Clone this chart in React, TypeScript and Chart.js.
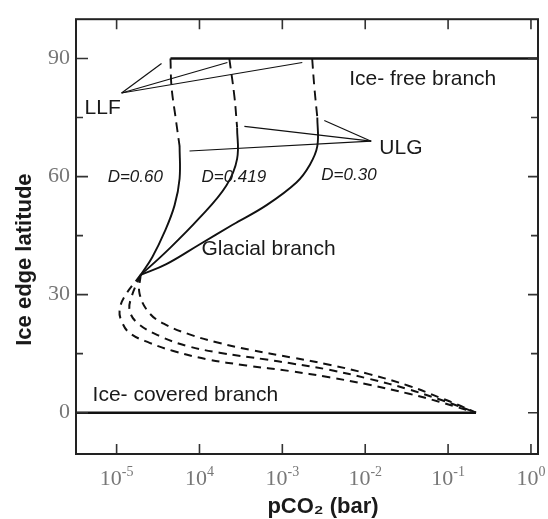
import { useEffect, useRef } from "react";
import { Chart, registerables } from "chart.js";

Chart.register(...registerables);

// ---- axes ----
const xMinLog = -5.49;
const xMaxLog = 0.085;
const yMin = -10.5;
const yMax = 100;
const xTickValues = [1e-5, 1e-4, 1e-3, 1e-2, 1e-1, 1];
const xTickExponents = ["-5", "4", "-3", "-2", "-1", "0"];
const yMajorTicks = [0, 30, 60, 90];
const yMinorTicks = [15, 45, 75];

// ---- branches (log10 pCO2, latitude) ----
const iceFreeLogP = [-4.35, 1];
const iceFreeLat = [90, 90];
const iceCoveredLogP = [-6, -0.663];
const iceCoveredLat = [0, 0];

// D = 0.60
const d060UpperLogP = [-4.35, -4.337, -4.29, -4.24];
const d060UpperLat = [90, 82.75, 75.25, 67.75];
const d060GlacialLogP = [-4.24, -4.24, -4.3, -4.42, -4.57, -4.71];
const d060GlacialLat = [67.75, 59.5, 52.75, 46, 39.5, 35];
const d060LowerLogP = [-4.71, -4.904, -4.964, -4.94, -4.843, -4.602, -4.325, -3.916, -3.434, -2.916, -2.434, -1.952, -1.47, -1.108, -0.904, -0.663];
const d060LowerLat = [35, 29.5, 26, 23.25, 20.25, 17.75, 15.75, 13.6, 12.0, 10.6, 9.0, 7.1, 4.8, 2.8, 1.5, 0];

// D = 0.419
const d0419UpperLogP = [-3.64, -3.578, -3.546];
const d0419UpperLat = [90, 80.25, 72.5];
const d0419GlacialLogP = [-3.546, -3.546, -3.675, -4.0, -4.398, -4.71];
const d0419GlacialLat = [72.5, 64.5, 57.75, 49.5, 41, 35];
const d0419LowerLogP = [-4.71, -4.819, -4.843, -4.747, -4.482, -4.157, -3.759, -3.193, -2.916, -2.434, -1.952, -1.47, -1.108, -0.904, -0.663];
const d0419LowerLat = [35, 29.5, 26, 22.75, 19.5, 17, 15.25, 13.5, 12.6, 10.9, 8.6, 5.9, 3.4, 1.9, 0];

// D = 0.30
const d030UpperLogP = [-2.64, -2.614, -2.578];
const d030UpperLat = [90, 82.75, 75];
const d030GlacialLogP = [-2.578, -2.578, -2.675, -2.83, -3.19, -3.6, -4.0, -4.4, -4.71];
const d030GlacialLat = [75, 67.75, 62.75, 58.5, 52.75, 47.75, 42.75, 37.75, 35];
const d030LowerLogP = [-4.71, -4.723, -4.602, -4.398, -4.12, -3.795, -3.398, -2.88, -2.434, -1.952, -1.47, -1.108, -0.904, -0.663];
const d030LowerLat = [35, 30.25, 25.25, 22.25, 19.9, 17.9, 16.0, 14.0, 12.2, 9.8, 6.8, 3.9, 2.2, 0];

// ---- pointer lines (apex -> end) ----
const llfApex = [-4.94, 81.25];
const llfEndsLogP = [-4.458, -3.663, -2.759];
const llfEndsLat = [88.75, 89, 89];
const ulgApex = [-1.928, 69];
const ulgEndsLogP = [-2.494, -3.458, -4.12];
const ulgEndsLat = [74.25, 72.75, 66.5];

// ---- text labels ----
const labelTexts = ["Ice- free branch", "ULG", "LLF", "Glacial branch", "Ice- covered branch", "D=0.60", "D=0.419", "D=0.30"];
const labelLogP = [-2.193, -1.83, -5.386, -3.976, -5.29, -5.108, -3.976, -2.53];
const labelLat = [84.75, 67.25, 77.5, 41.5, 4.5, 59.75, 59.75, 60.25];
const labelItalic = [false, false, false, false, false, true, true, true];

const xTitle = "pCO₂ (bar)";
const yTitle = "Ice edge latitude";

const INK = "#111";

function pts(logs: number[], lats: number[]) {
  return logs.map((l, i) => ({ x: Math.pow(10, l), y: lats[i] }));
}

function series(logs: number[], lats: number[], dash: number[], width = 1.9, tension = 0.4) {
  return {
    data: pts(logs, lats),
    borderColor: INK,
    borderWidth: width,
    borderDash: dash,
    pointRadius: 0,
    tension,
    fill: false,
  };
}

const decor = {
  id: "decor",
  afterDraw(chart: any) {
    const { ctx, chartArea: a } = chart;
    const x = chart.scales.x;
    const y = chart.scales.y;
    ctx.save();
    // ticks
    ctx.strokeStyle = "#333";
    ctx.lineWidth = 1.6;
    ctx.beginPath();
    xTickValues.forEach((v) => {
      const px = x.getPixelForValue(v);
      ctx.moveTo(px, a.bottom);
      ctx.lineTo(px, a.bottom - 10);
      ctx.moveTo(px, a.top);
      ctx.lineTo(px, a.top + 10);
    });
    yMajorTicks.forEach((v) => {
      const py = y.getPixelForValue(v);
      ctx.moveTo(a.left, py);
      ctx.lineTo(a.left + 12, py);
      ctx.moveTo(a.right, py);
      ctx.lineTo(a.right - 10, py);
    });
    yMinorTicks.forEach((v) => {
      const py = y.getPixelForValue(v);
      ctx.moveTo(a.left, py);
      ctx.lineTo(a.left + 7, py);
      ctx.moveTo(a.right, py);
      ctx.lineTo(a.right - 7, py);
    });
    ctx.stroke();
    // frame
    ctx.lineWidth = 2;
    ctx.strokeStyle = "#222";
    ctx.strokeRect(a.left, a.top, a.right - a.left, a.bottom - a.top);

    // x tick labels with superscripts
    ctx.fillStyle = "#777";
    ctx.textBaseline = "middle";
    ctx.textAlign = "left";
    xTickValues.forEach((v, i) => {
      const px = x.getPixelForValue(v);
      ctx.font = "22px 'Liberation Serif', serif";
      const wb = ctx.measureText("10").width;
      ctx.font = "14px 'Liberation Serif', serif";
      const we = ctx.measureText(xTickExponents[i]).width;
      const start = px - (wb + we) / 2;
      ctx.font = "22px 'Liberation Serif', serif";
      ctx.fillText("10", start, a.bottom + 25);
      ctx.font = "14px 'Liberation Serif', serif";
      ctx.fillText(xTickExponents[i], start + wb, a.bottom + 18);
    });

    // text labels
    ctx.fillStyle = "#1a1a1a";
    labelTexts.forEach((t, i) => {
      ctx.font = labelItalic[i] ? "italic 17px 'Liberation Sans', Arial, sans-serif" : "21px 'Liberation Sans', Arial, sans-serif";
      ctx.textAlign = "left";
      ctx.textBaseline = "middle";
      ctx.fillText(t, x.getPixelForValue(Math.pow(10, labelLogP[i])), y.getPixelForValue(labelLat[i]));
    });

    // axis titles
    ctx.font = "bold 22px 'Liberation Sans', Arial, sans-serif";
    ctx.textAlign = "center";
    ctx.textBaseline = "alphabetic";
    ctx.fillText(xTitle, (a.left + a.right) / 2 + 16, a.bottom + 59);
    ctx.save();
    ctx.translate(25, (a.top + a.bottom) / 2 + 23);
    ctx.rotate(-Math.PI / 2);
    ctx.textBaseline = "middle";
    ctx.fillText(yTitle, 0, 0);
    ctx.restore();
    ctx.restore();
  },
};

export default function App() {
  const ref = useRef<HTMLCanvasElement>(null);
  useEffect(() => {
    document.body.style.margin = "0";
    const canvas = ref.current;
    if (!canvas) return;
    const pointerSets: any[] = [];
    llfEndsLogP.forEach((l, i) => {
      pointerSets.push(series([llfApex[0], l], [llfApex[1], llfEndsLat[i]], [], 1.2, 0));
    });
    ulgEndsLogP.forEach((l, i) => {
      pointerSets.push(series([ulgApex[0], l], [ulgApex[1], ulgEndsLat[i]], [], 1.2, 0));
    });
    const chart = new Chart(canvas, {
      type: "line",
      data: {
        datasets: [
          series(iceFreeLogP, iceFreeLat, [], 2.4, 0),
          series(iceCoveredLogP, iceCoveredLat, [], 2.4, 0),
          series(d060UpperLogP, d060UpperLat, [10, 6]),
          series(d060GlacialLogP, d060GlacialLat, []),
          series(d060LowerLogP, d060LowerLat, [8, 6], 2),
          series(d0419UpperLogP, d0419UpperLat, [10, 6]),
          series(d0419GlacialLogP, d0419GlacialLat, []),
          series(d0419LowerLogP, d0419LowerLat, [8, 6], 2),
          series(d030UpperLogP, d030UpperLat, [10, 6]),
          series(d030GlacialLogP, d030GlacialLat, []),
          series(d030LowerLogP, d030LowerLat, [8, 6], 2),
          ...pointerSets,
        ] as any,
      },
      options: {
        animation: false,
        responsive: false,
        maintainAspectRatio: false,
        layout: { padding: { top: 10, right: 10, left: 0, bottom: 0 } },
        plugins: { legend: { display: false }, tooltip: { enabled: false } },
        scales: {
          x: {
            type: "logarithmic",
            min: Math.pow(10, xMinLog),
            max: Math.pow(10, xMaxLog),
            grid: { display: false },
            border: { display: false },
            ticks: { display: false },
            afterFit: (s: any) => {
              s.height = 65;
            },
          },
          y: {
            type: "linear",
            min: yMin,
            max: yMax,
            grid: { display: false, drawTicks: false },
            border: { display: false },
            afterBuildTicks: (s: any) => {
              s.ticks = yMajorTicks.map((v) => ({ value: v }));
            },
            ticks: {
              padding: 6,
              color: "#777",
              font: { family: "'Liberation Serif', serif", size: 22 },
            },
            afterFit: (s: any) => {
              s.width = 76;
            },
          },
        },
      },
      plugins: [decor],
    });
    return () => chart.destroy();
  }, []);
  return (
    <div style={{ width: 548, height: 519, background: "#fff" }}>
      <canvas ref={ref} width={548} height={519} style={{ display: "block" }} />
    </div>
  );
}
